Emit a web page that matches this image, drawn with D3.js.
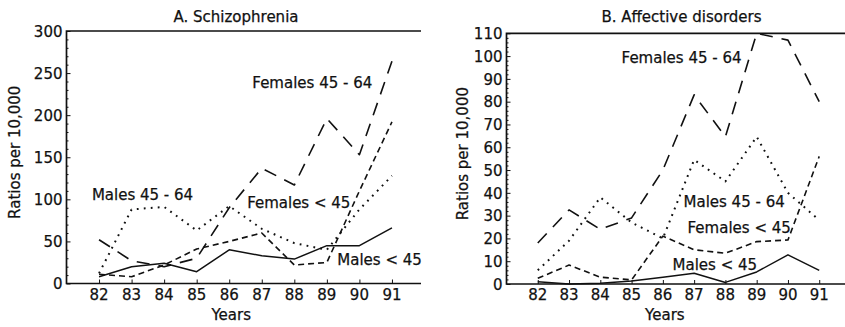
<!DOCTYPE html>
<html>
<head>
<meta charset="utf-8">
<script src="https://cdn.jsdelivr.net/npm/d3@7"></script>
<style>
  html, body { margin: 0; padding: 0; background: #fff; }
  svg { display: block; }
  text { font-family: "DejaVu Sans", "Liberation Sans", sans-serif; font-size: 15px; fill: #111; stroke: #111; stroke-width: 0.25px; }
</style>
</head>
<body>
<svg id="chart" width="845" height="327"></svg>
<script>
// Years of observation (19xx)
const years = [82, 83, 84, 85, 86, 87, 88, 89, 90, 91];

// A. Schizophrenia — ratios per 10,000
const schizMalesUnder45     = [8, 20, 24, 14, 40, 33, 29, 45, 45, 66];
const schizFemalesUnder45   = [11, 8, 22, 41, 50, 60, 22, 25, 110, 192];
const schizMales45to64      = [12, 88, 91, 63, 92, 65, 48, 40, 88, 128];
const schizFemales45to64    = [52, 27, 20, 30, 90, 137, 117, 196, 153, 264];

// B. Affective disorders — ratios per 10,000
const affMalesUnder45       = [1, 0, 0.3, 1.3, 3, 4.7, 0.7, 5.3, 12.8, 6];
const affFemalesUnder45     = [2.5, 8.3, 3, 1.8, 21, 15, 13.5, 18.6, 19.3, 56];
const affMales45to64        = [6, 19, 38, 27, 20, 54.5, 45, 64.6, 40, 28];
const affFemales45to64      = [18, 32.5, 24, 29, 50, 83, 64.6, 110, 107, 80];

// Axis ticks
const schizTicks = [0, 50, 100, 150, 200, 250, 300];
const affTicks   = [0, 10, 20, 30, 40, 50, 60, 70, 80, 90, 100, 110];

// Group names, in series order
const groupNames = ["Males < 45", "Females < 45", "Males 45 - 64", "Females 45 - 64"];

// Line style for each group
const dashStyles = [
  { dash: null,      width: 1.5 },   // solid
  { dash: "6 4",     width: 1.6 },   // short dashes
  { dash: "1.8 5.2", width: 2.0 },   // dots
  { dash: "13 9",    width: 1.6 }    // long dashes
];

const svg = d3.select("#chart");

const panels = [
  {
    title: "A. Schizophrenia",
    series: [schizMalesUnder45, schizFemalesUnder45, schizMales45to64, schizFemales45to64],
    ticks: schizTicks, minorStep: 10, yMax: 300,
    xRange: [66.5, 424.5], yRange: [283.5, 31], rightEdge: 421,
    titleX: 236, yLabelX: 20,
    // group label anchors in data units: [year, value]
    labelAt: [[89.32, 22], [86.55, 90], [81.78, 99], [86.71, 232]]
  },
  {
    title: "B.  Affective disorders",
    series: [affMalesUnder45, affFemalesUnder45, affMales45to64, affFemales45to64],
    ticks: affTicks, minorStep: 2, yMax: 110,
    xRange: [506.5, 850.5], yRange: [284, 33.3], rightEdge: 845,
    titleX: 681.5, yLabelX: 467.5,
    labelAt: [[86.31, 6.1], [86.79, 22.4], [86.66, 33.8], [84.68, 97]]
  }
];

panels.forEach(p => {
  const x = d3.scaleLinear().domain([81, 92]).range(p.xRange);
  const y = d3.scaleLinear().domain([0, p.yMax]).range(p.yRange);
  const g = svg.append("g");
  const x0 = x(81), y0 = y(0), yTop = y(p.yMax);

  // frame: left, bottom and top rules
  g.append("path")
    .attr("d", `M${p.rightEdge},${yTop}H${x0}V${y0}H${p.rightEdge}`)
    .attr("fill", "none").attr("stroke", "#111").attr("stroke-width", 1.7);

  // y axis: inward major and minor ticks
  const yAxis = d3.axisRight(y).tickValues(p.ticks).tickSize(4).tickFormat("");
  g.append("g").attr("transform", `translate(${x0},0)`).call(yAxis)
    .call(s => s.select(".domain").remove())
    .selectAll("line").attr("stroke", "#111");
  const minor = d3.range(0, p.yMax + 0.001, p.minorStep).filter(v => !p.ticks.includes(v));
  g.append("g").attr("transform", `translate(${x0},0)`)
    .call(d3.axisRight(y).tickValues(minor).tickSize(2).tickFormat(""))
    .call(s => s.select(".domain").remove())
    .selectAll("line").attr("stroke", "#111");
  // y tick labels
  g.append("g").selectAll("text").data(p.ticks).join("text")
    .attr("x", x0 - 4).attr("y", d => y(d)).attr("dy", "0.38em")
    .attr("text-anchor", "end").text(d => d);

  // x axis: inward ticks, labels below
  g.append("g").attr("transform", `translate(0,${y0})`)
    .call(d3.axisTop(x).tickValues(years).tickSize(4).tickFormat(""))
    .call(s => s.select(".domain").remove())
    .selectAll("line").attr("stroke", "#111");
  g.append("g").selectAll("text").data(years).join("text")
    .attr("x", d => x(d)).attr("y", 300).attr("text-anchor", "middle").text(d => d);

  // axis titles
  g.append("text").attr("x", (x(81) + x(91)) / 2 + 2).attr("y", 320)
    .attr("text-anchor", "middle").text("Years");
  g.append("text")
    .attr("transform", `translate(${p.yLabelX},${(y0 + yTop) / 2 - 5}) rotate(-90)`)
    .attr("text-anchor", "middle").text("Ratios per 10,000");
  g.append("text").attr("x", p.titleX).attr("y", 22)
    .attr("text-anchor", "middle").text(p.title);

  // series lines
  const line = d3.line().x((d, i) => x(years[i])).y(d => y(d));
  p.series.forEach((vals, k) => {
    const st = dashStyles[k];
    g.append("path").datum(vals).attr("d", line)
      .attr("fill", "none").attr("stroke", "#111")
      .attr("stroke-width", st.width)
      .attr("stroke-linejoin", "round")
      .attr("stroke-dasharray", st.dash);
  });

  // group labels
  p.labelAt.forEach((pos, k) => {
    g.append("text").attr("x", x(pos[0])).attr("y", y(pos[1])).text(groupNames[k]);
  });
});
</script>
</body>
</html>
